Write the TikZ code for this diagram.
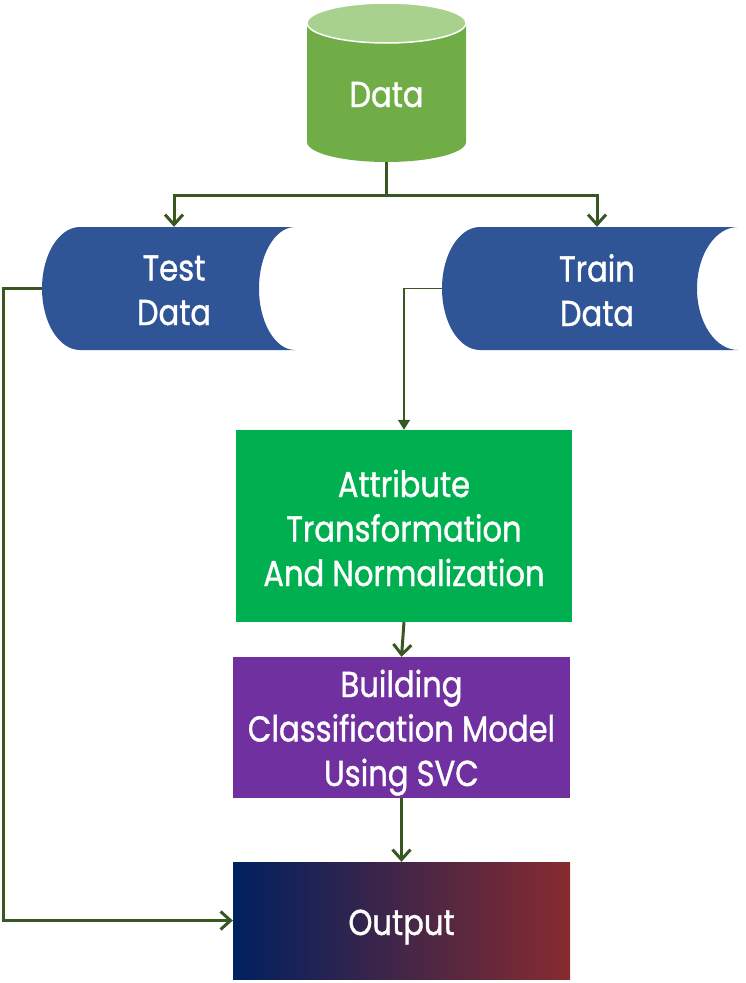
\documentclass[tikz,border=0pt]{standalone}
\usepackage{fontspec}
\setmainfont{Poppins}[FakeStretch=0.85, FakeBold=1]
\usepackage{xcolor}
\usetikzlibrary{arrows,arrows.meta,positioning,shapes}

\definecolor{cylbody}{HTML}{70AD47}
\definecolor{cyltop}{HTML}{A9D18E}
\definecolor{storeblue}{HTML}{2F5597}
\definecolor{attrgreen}{HTML}{00B050}
\definecolor{svcpurple}{HTML}{7030A0}
\definecolor{outblue}{HTML}{002060}
\definecolor{outred}{HTML}{872B2F}
\definecolor{linegreen}{HTML}{385723}

\tikzset{textdrop/.style={execute at begin node={\rule{0pt}{#1pt}}}}

\begin{document}
\begin{tikzpicture}[x=1pt, y=-1pt]
    % Define styles
    \tikzstyle{nodetext} = [text=white, align=center, inner sep=0pt, font=\fontsize{36}{44.5}\selectfont, textdrop=41, execute at end node={\rule[-12pt]{0pt}{0pt}}]
    \tikzstyle{block} = [nodetext, rectangle]
    \tikzstyle{arrow} = [line width=3pt, draw=linegreen, -{Straight Barb[length=10pt, width=18pt]}]
    \tikzstyle{thinarrow} = [line width=1.2pt, draw=linegreen, -{Triangle[length=10pt, width=12pt]}]

    \useasboundingbox (0,0) rectangle (746,983);

    % Shapes
    \fill [cylbody] (307,23) -- (307,142) arc [start angle=180, end angle=0, x radius=79.5, y radius=20] -- (466,23) -- cycle;
    \filldraw [fill=cyltop, draw=white, line width=1.5pt] (386.5,23) ellipse [x radius=79.5, y radius=20];
    \fill [storeblue] (80,227) -- (295,227) arc [start angle=270, end angle=90, x radius=36, y radius=61.5] -- (80,350) arc [start angle=90, end angle=270, x radius=38, y radius=61.5] -- cycle;
    \fill [storeblue] (480,227) -- (738,227) arc [start angle=270, end angle=90, x radius=41, y radius=61.5] -- (480,350) arc [start angle=90, end angle=270, x radius=38, y radius=61.5] -- cycle;

    % Nodes
    \node [nodetext, minimum width=159, minimum height=139] (data) at (386.5,92.5) {Data};
    \node [nodetext, textdrop=85, minimum width=264, minimum height=123] (test) at (174,288.5) {Test\\Data};
    \node [nodetext, textdrop=87, minimum width=310, minimum height=123] (train) at (597,288.5) {Train\\Data};
    \node [block, textdrop=132, fill=attrgreen, minimum width=336, minimum height=192] (attr) at (404,526) {Attribute\\Transformation\\And Normalization};
    \node [block, textdrop=129, fill=svcpurple, minimum width=337, minimum height=141] (svc) at (401.5,727.5) {Building\\Classification Model\\Using SVC};
    \node [block, textdrop=39, left color=outblue, right color=outred, minimum width=337, minimum height=117] (output) at (401.5,920.5) {Output};

    % Arrows
    \draw [arrow] (data.south) -- ++(0,33) coordinate (split) -| (test.north);
    \draw [arrow] (split) -| (train.north);
    \draw [arrow] (test.west) -- ++(-38,0) |- (output.west);
    \draw [thinarrow] (train.west) -| (attr.north);
    \draw [arrow] (attr.south) -- (svc.north);
    \draw [arrow] (svc.south) -- (output.north);

\end{tikzpicture}
\end{document}
